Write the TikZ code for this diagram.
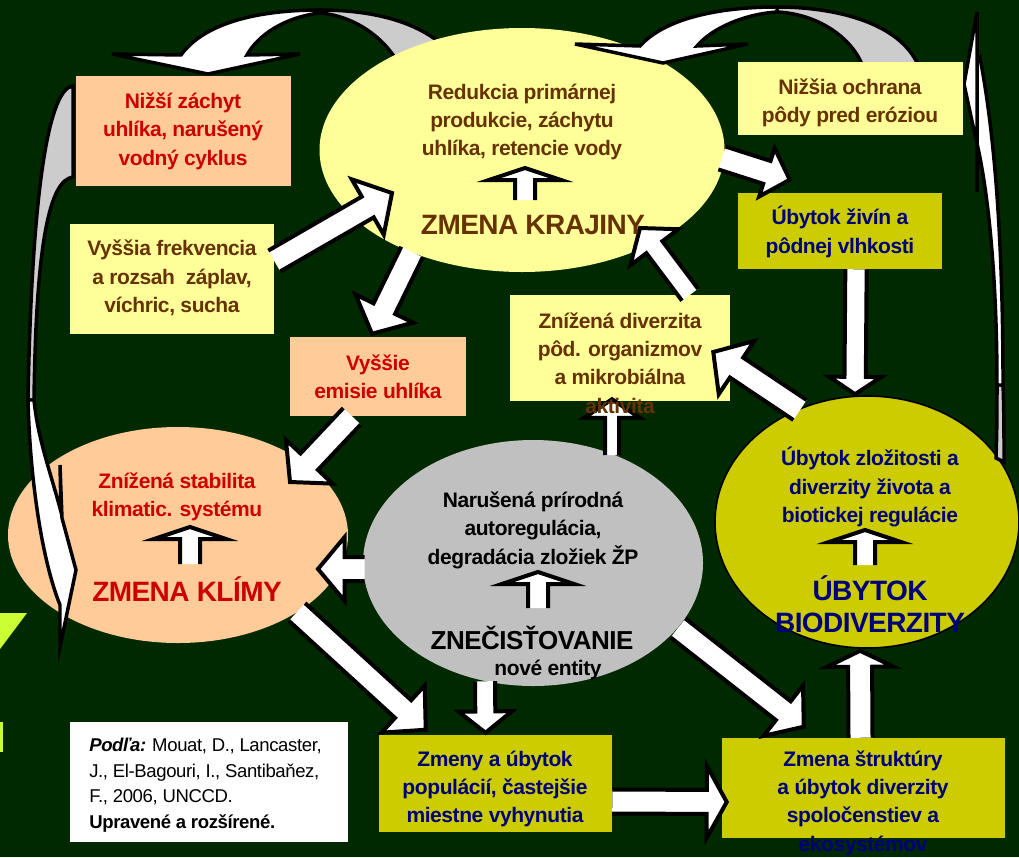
\documentclass[tikz,border=0pt]{standalone}
\usepackage{fontspec}
\setmainfont{Liberation Sans}[LetterSpace=-2]
\usetikzlibrary{calc,shapes.geometric}

\definecolor{bggreen}{RGB}{0,41,0}
\definecolor{paleyel}{RGB}{255,255,153}
\definecolor{peach}{RGB}{255,204,153}
\definecolor{olive}{RGB}{204,204,0}
\definecolor{lgray}{RGB}{192,192,192}
\definecolor{backgr}{RGB}{204,204,204}
\definecolor{brn}{RGB}{102,51,0}
\definecolor{redt}{RGB}{204,0,0}
\definecolor{navy}{RGB}{0,0,120}
\definecolor{lime}{RGB}{204,255,51}

\tikzset{
  ell/.style 2 args={ellipse, minimum width=#1*0.75pt, minimum height=#2*0.75pt, inner sep=0pt},
  rbox/.style 2 args={rectangle, minimum width=#1*0.75pt, minimum height=#2*0.75pt, inner sep=0pt},
  blockarr/.style={draw=black, line width=3pt, fill=white, line join=miter},
  curvw/.style={draw=black, line width=2.6pt, fill=white, line join=miter},
  curvg/.style={curvw, fill=backgr},
  txt/.style={align=center, inner sep=0pt, font=\bfseries\fontsize{15.75pt}{21.3pt}\selectfont},
  bigtxt/.style={align=center, inner sep=0pt, font=\bfseries\fontsize{21pt}{24pt}\selectfont},
}

% white block arrow: [style] shaft half width, head half width, head length, from, to
\newcommand{\blockarrow}[6][]{%
  \coordinate (ba-s) at #5;
  \coordinate (ba-e) at #6;
  \coordinate (ba-b) at ($(ba-e)!#4!(ba-s)$);
  \draw[blockarr,#1] ($(ba-s)!#2!-90:(ba-e)$) -- ($(ba-b)!#2!90:(ba-s)$) -- ($(ba-b)!#3!90:(ba-s)$)
    -- (ba-e) -- ($(ba-b)!#3!-90:(ba-s)$) -- ($(ba-b)!#2!-90:(ba-s)$) -- ($(ba-s)!#2!90:(ba-e)$);
}

\begin{document}
\begin{tikzpicture}[x=0.75pt,y=-0.75pt]

	% Draw the background
	\fill[bggreen] (0,0) rectangle (1019,857);
	\useasboundingbox (0,0) rectangle (1019,857);
	\fill[lime] (0,613) -- (27,613) -- (0,649) -- cycle;
	\fill[lime] (0,722) rectangle (3,752);

	% Draw the curved arrow top left (tail under the landscape ellipse)
	\draw[curvg] (320,10) .. controls (380,10) and (432,25) .. (458,62) -- (400,66) .. controls (385,38) and (355,16) .. (320,13) -- cycle;
	\draw[curvw] (181,55) .. controls (205,22) and (260,10) .. (320,10) -- (320,13) .. controls (285,17) and (258,35) .. (247,55) -- (300,54) -- (208,74) -- (112,54) -- cycle;

	% Draw the ellipses
	\node[ell={405}{244}, fill=paleyel] (kraj) at (522,150) {};

	% Draw the curved arrow top right (tail under the erosion box)
	\draw[curvg] (777,7) .. controls (840,7) and (905,25) .. (920,70) -- (864,70) .. controls (855,40) and (820,14) .. (777,12) -- cycle;
	\draw[curvw] (640,46) .. controls (665,18) and (720,7) .. (777,7) -- (777,12) .. controls (745,14) and (712,28) .. (697,46) -- (748,44) -- (663,63) -- (575,44) -- cycle;

	\node[ell={340}{216}, fill=peach] (klim) at (178,535) {};
	\node[ell={340}{246}, fill=lgray] (znec) at (533,563) {};
	\node[ell={304}{252}, fill=olive, draw=black, line width=1.2pt] (biod) at (867,522) {};

	% Draw the long arrows on both sides
	\draw[curvg] (73,86) .. controls (50,88) and (32,180) .. (28,400) -- (34,400) .. controls (36,240) and (50,180) .. (73,177) -- cycle;
	\draw[curvw] (28,400) .. controls (30,480) and (42,560) .. (60,605) -- (60,647) -- (76,570) -- (62,518) -- (60,465) -- (61,512) .. controls (50,470) and (38,440) .. (34,400) -- cycle;
	\draw[curvg] (996,458) .. controls (997,430) and (997,410) .. (997,385) -- (1003,385) .. controls (1004,410) and (1004,440) .. (1004,462) -- cycle;
	\draw[curvw] (997,385) .. controls (997,290) and (990,195) .. (975,135) -- (964,84) -- (977,12) -- (977,192) -- (977,62) -- (980,58) .. controls (992,120) and (1003,220) .. (1003,385) -- cycle;

	% Draw the boxes
	\node[rbox={215}{110}, fill=peach] (nizsi) at (183.5,131) {};
	\node[rbox={204}{110}, fill=paleyel] (vysf) at (172,279) {};
	\node[rbox={176}{79}, fill=peach] (emis) at (378,376.5) {};
	\node[rbox={225}{73}, fill=paleyel] (ochr) at (850.5,98.5) {};
	\node[rbox={204}{76}, fill=olive] (ziv) at (840,231) {};
	\node[rbox={220}{106}, fill=paleyel] (pdiv) at (620,348) {};
	\node[rbox={233}{97}, fill=olive] (zmpop) at (495.5,783.5) {};
	\node[rbox={283}{100}, fill=olive] (zmstr) at (863.5,788) {};
	\node[rbox={278}{120}, fill=white] (ref) at (209,782) {};

	% Draw the block arrows
	\blockarrow{9pt}{24pt}{21pt}{($(vysf.east)+(0,-18)$)}{($(kraj)+(-130,43)$)}
	\blockarrow{9pt}{24pt}{21pt}{($(kraj)+(-110,102)$)}{($(emis.north)+(-6,-3)$)}
	\blockarrow{9pt}{24pt}{21pt}{($(emis.south)+(-26,0)$)}{($(klim)+(112,-53)$)}
	\blockarrow{9pt}{24pt}{20pt}{($(znec.west)+(2,6)$)}{($(klim)+(140,34)$)}
	\blockarrow{9pt}{24pt}{23pt}{($(klim)+(119,77)$)}{($(zmpop.north west)+(47,-5)$)}
	\blockarrow{7.5pt}{20pt}{16pt}{($(znec.south)+(-48,-5)$)}{($(zmpop.north)+(-10,-2)$)}
	\blockarrow{9pt}{24pt}{19.5pt}{($(znec)+(145,65)$)}{($(zmstr.north west)+(82,-11)$)}
	\blockarrow{9pt}{27pt}{15pt}{($(zmpop.east)+(0,18)$)}{($(zmstr.west)+(5,14)$)}
	\blockarrow{9pt}{25pt}{12pt}{($(zmstr.north)+(-3,0)$)}{($(biod.south)+(-7,2)$)}
	\blockarrow{8pt}{19.5pt}{13pt}{($(ziv.south)+(16,0)$)}{($(biod.north)+(-12,-1)$)}
	\blockarrow{9pt}{24pt}{21pt}{($(biod)+(-67,-112)$)}{($(pdiv.east)+(-17,4)$)}
	\blockarrow{7.5pt}{22.5pt}{18pt}{($(pdiv.north)+(70,0)$)}{($(kraj)+(118,78)$)}
	\blockarrow{5.25pt}{21pt}{14pt}{($(znec)+(79,-108)$)}{($(pdiv.south)+(-8,-2)$)}
	\blockarrow{9pt}{19pt}{18pt}{($(kraj)+(200,8)$)}{($(ziv.north west)+(52,-13)$)}

	% Draw the small arrows inside the ellipses
	\blockarrow{7.5pt}{27pt}{9pt}{($(kraj)+(3,50)$)}{($(kraj)+(3,18)$)}
	\blockarrow{7.5pt}{27pt}{9pt}{($(klim)+(12,29)$)}{($(klim)+(12,-8)$)}
	\blockarrow{7.5pt}{27pt}{9pt}{($(znec)+(5,45)$)}{($(znec)+(5,9)$)}
	\blockarrow{7.5pt}{27pt}{9pt}{($(biod)+(-2,43)$)}{($(biod)+(-2,8)$)}

	% Draw the texts
	\node[txt, text=brn] (kraj-t) at (522,122) {Redukcia primárnej\\produkcie, záchytu\\uhlíka, retencie vody};
	\node[bigtxt, text=brn] (kraj-h) at (533,225) {ZMENA KRAJINY};
	\node[txt, text=redt] (nizsi-t) at (183,131) {Nižší záchyt\\uhlíka, narušený\\vodný cyklus};
	\node[txt, text=brn] (vysf-t) at (172,278) {Vyššia frekvencia\\a rozsah~ záplav,\\víchric, sucha};
	\node[txt, text=redt] (emis-t) at (378,377) {Vyššie\\emisie uhlíka};
	\node[txt, text=brn] (ochr-t) at (850,103) {Nižšia ochrana\\pôdy pred eróziou};
	\node[txt, text=navy] (ziv-t) at (840,232) {Úbytok živín a\\pôdnej vlhkosti};
	\node[txt, text=brn] (pdiv-t) at (620,363) {Znížená diverzita\\pôd. organizmov\\a mikrobiálna\\aktivita};
	\node[txt, text=redt] (klim-t) at (177,497) {Znížená stabilita\\klimatic. systému};
	\node[bigtxt, text=redt] (klim-h) at (187,589) {ZMENA KLÍMY};
	\node[txt, text=black] (znec-t) at (533,530) {Narušená prírodná\\autoregulácia,\\degradácia zložiek ŽP};
	\node[bigtxt, text=black, font=\bfseries\fontsize{19.5pt}{24pt}\selectfont] (znec-h) at (532,638) {ZNEČISŤOVANIE};
	\node[txt, text=black] (znec-s) at (548,670) {nové entity};
	\node[txt, text=navy] (biod-t) at (870,487) {Úbytok zložitosti a\\diverzity života a\\biotickej regulácie};
	\node[bigtxt, text=navy] (biod-h) at (870,604) {ÚBYTOK\\BIODIVERZITY};
	\node[txt, text=navy] (zmpop-t) at (495,789) {Zmeny a úbytok\\populácií, častejšie\\miestne vyhynutia};
	\node[txt, text=navy] (zmstr-t) at (863,803) {Zmena štruktúry\\a úbytok diverzity\\spoločenstiev a\\ekosystémov};
	\node[align=left, anchor=west, inner sep=0pt, font=\fontsize{13.9pt}{19.1pt}\selectfont] (ref-t) at (89,785)
		{\textbf{\textit{Podľa:}} Mouat, D., Lancaster,\\J., El-Bagouri, I., Santibaňez,\\F., 2006, UNCCD.\\\textbf{Upravené a rozšírené.}};

\end{tikzpicture}
\end{document}
